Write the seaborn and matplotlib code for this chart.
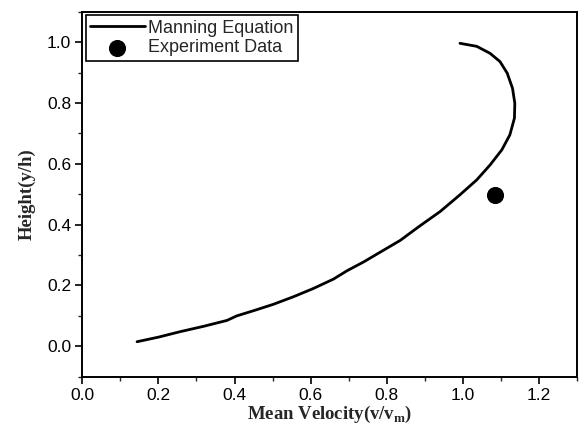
import matplotlib
matplotlib.use("Agg")
import matplotlib.pyplot as plt
import seaborn as sns
import pandas as pd
from matplotlib.ticker import MultipleLocator

# Manning equation curve
manning_velocity = [0.144, 0.200, 0.257, 0.320, 0.380, 0.406, 0.450, 0.502, 0.555,
                    0.607, 0.660, 0.695, 0.740, 0.782, 0.835, 0.887, 0.940, 0.992,
                    1.036, 1.071, 1.102, 1.123, 1.135, 1.136, 1.130, 1.116, 1.097,
                    1.071, 1.036, 0.992]
manning_height = [0.015, 0.030, 0.048, 0.066, 0.085, 0.100, 0.117, 0.138, 0.163,
                  0.190, 0.221, 0.248, 0.278, 0.309, 0.348, 0.396, 0.443, 0.498,
                  0.547, 0.596, 0.646, 0.695, 0.750, 0.799, 0.848, 0.898, 0.936,
                  0.963, 0.986, 0.996]

# Experiment data
exp_velocity = [1.083]
exp_height = [0.497]

series_labels = ["Manning Equation", "Experiment Data"]
x_label = "Mean Velocity(v/v$_\\mathbf{m}$)"
y_label = "Height(y/h)"

sns.set_theme(style="ticks")
plt.rcParams['font.family'] = ['Liberation Sans', 'DejaVu Sans']
plt.rcParams['mathtext.fontset'] = 'custom'
plt.rcParams['mathtext.rm'] = 'Liberation Serif'
plt.rcParams['mathtext.bf'] = 'Liberation Serif:bold'

curve = pd.DataFrame({"v": manning_velocity, "h": manning_height})
exp = pd.DataFrame({"v": exp_velocity, "h": exp_height})

fig = plt.figure(figsize=(5.79, 4.32), dpi=100)
ax = fig.add_axes([0.142, 0.128, 0.855, 0.845])

sns.lineplot(data=curve, x="v", y="h", sort=False, estimator=None, ax=ax,
             color="black", linewidth=2.0, label=series_labels[0])
sns.scatterplot(data=exp, x="v", y="h", ax=ax, color="black", s=130,
                edgecolor="black", label=series_labels[1])

ax.set_xlim(0, 1.3)
ax.set_ylim(-0.1, 1.1)
ax.xaxis.set_major_locator(MultipleLocator(0.2))
ax.xaxis.set_minor_locator(MultipleLocator(0.1))
ax.yaxis.set_major_locator(MultipleLocator(0.2))
ax.yaxis.set_minor_locator(MultipleLocator(0.1))
ax.tick_params(which="major", direction="out", length=5, width=1.2,
               labelsize=12.5, colors="black", top=False, right=False, pad=3)
ax.tick_params(which="minor", direction="out", length=3, width=1.0,
               top=False, right=False)
for s in ax.spines.values():
    s.set_linewidth(1.4)
    s.set_color("black")

ax.set_xlabel(x_label, fontsize=13.5, fontweight="bold",
              family=["Liberation Serif", "DejaVu Serif"], labelpad=1)
ax.set_ylabel(y_label, fontsize=13.5, fontweight="bold",
              family=["Liberation Serif", "DejaVu Serif"], labelpad=8)

leg = ax.legend(loc="upper left", bbox_to_anchor=(0.0, 1.0),
                frameon=True, fancybox=False, edgecolor="black",
                fontsize=13, handlelength=3.0, borderaxespad=0.2,
                labelspacing=0.15, handletextpad=0.2, borderpad=0.25)
leg.get_frame().set_linewidth(1.2)
leg.get_frame().set_alpha(1)

fig.savefig("out.png", dpi=100)
